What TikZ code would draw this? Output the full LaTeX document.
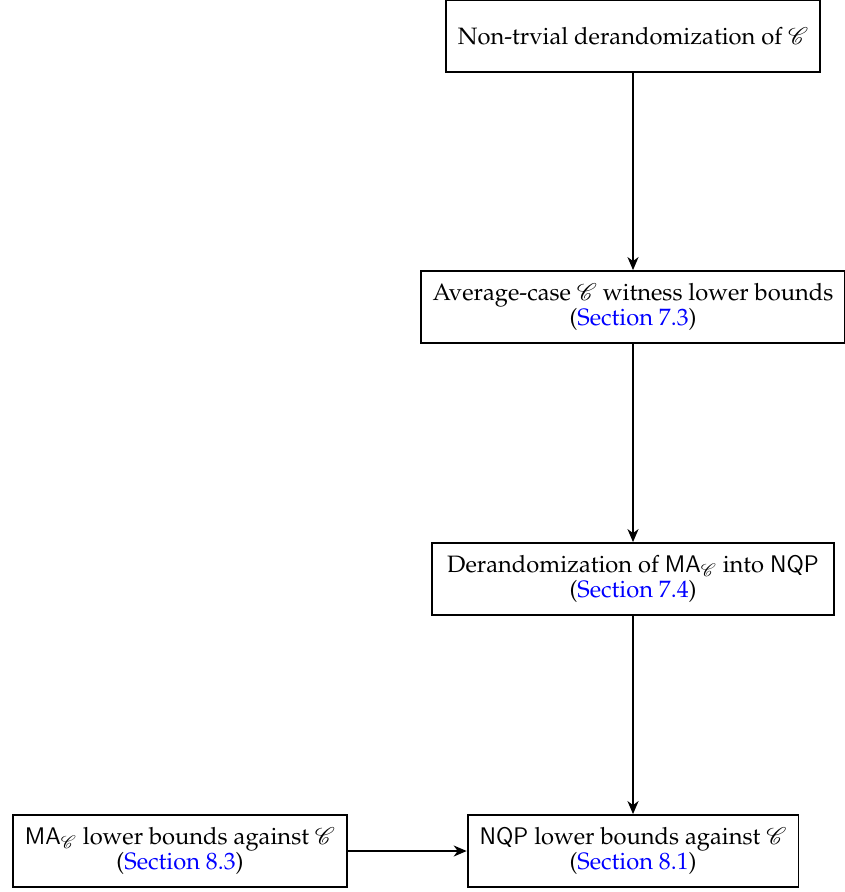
\documentclass[tikz,border=0pt]{standalone}
\usepackage[OT1]{fontenc}
\usepackage{mathpazo}
\usepackage{mathrsfs}
\usepackage{xcolor}
\usetikzlibrary{shapes,arrows.meta}
\renewcommand{\sfdefault}{cmss}

\newcommand{\secref}[1]{(\textcolor{blue}{Section~#1})}
\newcommand{\cls}{\ensuremath{\mathscr{C}}}

\begin{document}
\begin{tikzpicture}[x=0.5pt,y=-0.5pt,>={Stealth[length=6.5pt,width=5.5pt,inset=2pt]},
  box/.style={draw, line width=0.9pt, minimum height=36pt, inner xsep=6pt,
    align=center, font=\fontsize{11.85}{12.6}\selectfont}]
  \useasboundingbox (0,0) rectangle (844,892);

  % Chain of implications
  \node[box] (nontriv) at (633,36) {Non-trvial derandomization of \cls};
  \node[box] (avgcase) at (633,307) {Average-case \cls{} witness lower bounds\\\secref{7.3}};
  \node[box, inner xsep=7.5pt] (derand) at (633,579) {Derandomization of \textsf{MA}$_{\mathscr{C}}$ into \textsf{NQP}\\\secref{7.4}};
  \node[box] (nqp) at (633,851) {\textsf{NQP} lower bounds against \cls\\\secref{8.1}};
  \node[box] (ma) at (180,851) {\textsf{MA}$_{\mathscr{C}}$ lower bounds against \cls\\\secref{8.3}};

  % Arrows
  \draw[->, line width=0.9pt] (nontriv) -- (avgcase);
  \draw[->, line width=0.9pt] (avgcase) -- (derand);
  \draw[->, line width=0.9pt] (derand) -- (nqp);
  \draw[->, line width=0.9pt] (ma) -- (nqp);
\end{tikzpicture}
\end{document}
